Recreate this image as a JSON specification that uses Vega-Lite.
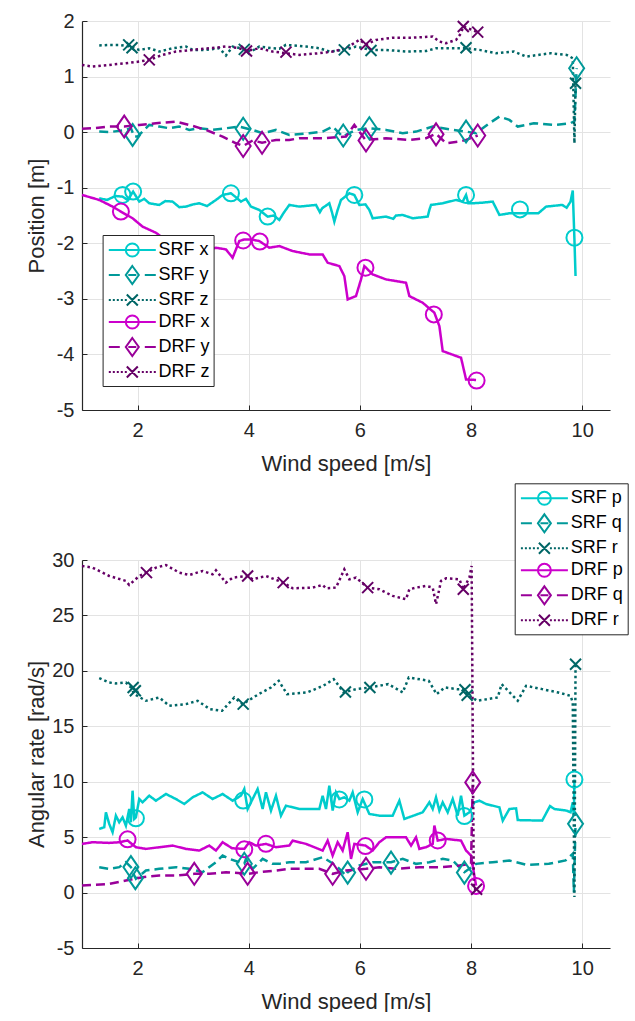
{
  "$schema": "https://vega.github.io/schema/vega-lite/v6.json",
  "background": "#ffffff",
  "padding": {"left": 25, "top": 11, "right": 0, "bottom": 0},
  "bounds": "flush",
  "spacing": 150,
  "resolve": {"scale": {"color": "independent", "shape": "independent", "strokeDash": "independent", "x": "independent", "y": "independent"}, "legend": {"color": "independent", "shape": "independent", "strokeDash": "independent"}},
  "config": {
    "view": {"stroke": null},
    "axis": {
      "domainColor": "#262626", "tickColor": "#262626", "labelColor": "#262626", "titleColor": "#262626",
      "labelFont": "Liberation Sans", "titleFont": "Liberation Sans",
      "labelFontSize": 20, "titleFontSize": 22, "titleFontWeight": "normal",
      "tickSize": -5, "gridColor": "#e3e3e3", "gridWidth": 1, "domainWidth": 1.2,
      "labelExpr": "datum.value + ''"
    },
    "axisX": {"titlePadding": 13, "labelPadding": 15},
    "axisY": {"titlePadding": 3, "labelPadding": 13},
    "legend": {
      "title": null, "orient": "none", "symbolSize": 400, "symbolStrokeWidth": 2, "symbolOpacity": 1,
      "labelFont": "Liberation Sans", "labelFontSize": 18, "labelColor": "#000000",
      "strokeColor": "#262626", "fillColor": "#ffffff", "padding": 4, "rowPadding": 1,
      "symbolOffset": 14.7, "labelOffset": 15.3
    }
  },
  "datasets": {
    "pos": [
      {"s":"SRF x","w":1.31,"v":-1.19},{"s":"SRF x","w":1.45,"v":-1.22},{"s":"SRF x","w":1.6,"v":-1.15},{"s":"SRF x","w":1.73,"v":-1.16},{"s":"SRF x","w":1.82,"v":-1.22},{"s":"SRF x","w":1.92,"v":-1.07},{"s":"SRF x","w":2.03,"v":-1.25},{"s":"SRF x","w":2.12,"v":-1.2},{"s":"SRF x","w":2.21,"v":-1.28},{"s":"SRF x","w":2.39,"v":-1.31},{"s":"SRF x","w":2.5,"v":-1.24},{"s":"SRF x","w":2.63,"v":-1.25},{"s":"SRF x","w":2.75,"v":-1.35},{"s":"SRF x","w":2.87,"v":-1.34},{"s":"SRF x","w":3.0,"v":-1.3},{"s":"SRF x","w":3.11,"v":-1.28},{"s":"SRF x","w":3.25,"v":-1.33},{"s":"SRF x","w":3.41,"v":-1.22},{"s":"SRF x","w":3.53,"v":-1.13},{"s":"SRF x","w":3.68,"v":-1.1},{"s":"SRF x","w":3.78,"v":-1.18},{"s":"SRF x","w":3.86,"v":-1.25},{"s":"SRF x","w":3.95,"v":-1.2},{"s":"SRF x","w":4.04,"v":-1.34},{"s":"SRF x","w":4.19,"v":-1.4},{"s":"SRF x","w":4.34,"v":-1.52},{"s":"SRF x","w":4.45,"v":-1.5},{"s":"SRF x","w":4.55,"v":-1.58},{"s":"SRF x","w":4.63,"v":-1.45},{"s":"SRF x","w":4.73,"v":-1.31},{"s":"SRF x","w":4.91,"v":-1.34},{"s":"SRF x","w":5.21,"v":-1.31},{"s":"SRF x","w":5.28,"v":-1.44},{"s":"SRF x","w":5.32,"v":-1.37},{"s":"SRF x","w":5.45,"v":-1.28},{"s":"SRF x","w":5.5,"v":-1.45},{"s":"SRF x","w":5.54,"v":-1.61},{"s":"SRF x","w":5.6,"v":-1.4},{"s":"SRF x","w":5.66,"v":-1.22},{"s":"SRF x","w":5.81,"v":-1.1},{"s":"SRF x","w":5.9,"v":-1.13},{"s":"SRF x","w":5.99,"v":-1.31},{"s":"SRF x","w":6.1,"v":-1.3},{"s":"SRF x","w":6.17,"v":-1.4},{"s":"SRF x","w":6.23,"v":-1.55},{"s":"SRF x","w":6.47,"v":-1.52},{"s":"SRF x","w":6.6,"v":-1.56},{"s":"SRF x","w":6.65,"v":-1.5},{"s":"SRF x","w":6.77,"v":-1.49},{"s":"SRF x","w":6.95,"v":-1.55},{"s":"SRF x","w":7.22,"v":-1.52},{"s":"SRF x","w":7.25,"v":-1.4},{"s":"SRF x","w":7.28,"v":-1.31},{"s":"SRF x","w":7.49,"v":-1.28},{"s":"SRF x","w":7.73,"v":-1.22},{"s":"SRF x","w":7.85,"v":-1.25},{"s":"SRF x","w":7.91,"v":-1.13},{"s":"SRF x","w":7.95,"v":-1.28},{"s":"SRF x","w":8.03,"v":-1.28},{"s":"SRF x","w":8.2,"v":-1.27},{"s":"SRF x","w":8.39,"v":-1.25},{"s":"SRF x","w":8.51,"v":-1.49},{"s":"SRF x","w":8.69,"v":-1.46},{"s":"SRF x","w":8.92,"v":-1.46},{"s":"SRF x","w":9.21,"v":-1.46},{"s":"SRF x","w":9.35,"v":-1.34},{"s":"SRF x","w":9.64,"v":-1.31},{"s":"SRF x","w":9.72,"v":-1.36},{"s":"SRF x","w":9.79,"v":-1.25},{"s":"SRF x","w":9.83,"v":-1.05},{"s":"SRF x","w":9.86,"v":-1.93},{"s":"SRF x","w":9.88,"v":-2.59},
      {"s":"DRF x","w":1.0,"v":-1.13},{"s":"DRF x","w":1.31,"v":-1.22},{"s":"DRF x","w":1.55,"v":-1.34},{"s":"DRF x","w":1.7,"v":-1.43},{"s":"DRF x","w":1.91,"v":-1.55},{"s":"DRF x","w":2.09,"v":-1.7},{"s":"DRF x","w":2.33,"v":-1.81},{"s":"DRF x","w":2.57,"v":-1.99},{"s":"DRF x","w":2.94,"v":-2.08},{"s":"DRF x","w":3.3,"v":-2.11},{"s":"DRF x","w":3.41,"v":-2.08},{"s":"DRF x","w":3.59,"v":-2.11},{"s":"DRF x","w":3.71,"v":-2.26},{"s":"DRF x","w":3.83,"v":-1.96},{"s":"DRF x","w":3.92,"v":-1.93},{"s":"DRF x","w":4.04,"v":-1.93},{"s":"DRF x","w":4.19,"v":-1.96},{"s":"DRF x","w":4.37,"v":-2.08},{"s":"DRF x","w":4.55,"v":-2.05},{"s":"DRF x","w":4.79,"v":-2.14},{"s":"DRF x","w":5.09,"v":-2.2},{"s":"DRF x","w":5.33,"v":-2.2},{"s":"DRF x","w":5.42,"v":-2.35},{"s":"DRF x","w":5.63,"v":-2.41},{"s":"DRF x","w":5.72,"v":-2.59},{"s":"DRF x","w":5.78,"v":-3.01},{"s":"DRF x","w":5.93,"v":-2.95},{"s":"DRF x","w":6.02,"v":-2.65},{"s":"DRF x","w":6.08,"v":-2.41},{"s":"DRF x","w":6.23,"v":-2.56},{"s":"DRF x","w":6.47,"v":-2.65},{"s":"DRF x","w":6.83,"v":-2.71},{"s":"DRF x","w":6.89,"v":-2.95},{"s":"DRF x","w":7.13,"v":-3.07},{"s":"DRF x","w":7.34,"v":-3.25},{"s":"DRF x","w":7.43,"v":-3.49},{"s":"DRF x","w":7.49,"v":-3.94},{"s":"DRF x","w":7.82,"v":-4.06},{"s":"DRF x","w":7.91,"v":-4.45},{"s":"DRF x","w":8.09,"v":-4.46},
      {"s":"SRF y","w":1.31,"v":0.01},{"s":"SRF y","w":1.49,"v":0.0},{"s":"SRF y","w":1.79,"v":0.04},{"s":"SRF y","w":1.88,"v":0.07},{"s":"SRF y","w":1.94,"v":-0.08},{"s":"SRF y","w":2.0,"v":-0.08},{"s":"SRF y","w":2.21,"v":0.13},{"s":"SRF y","w":2.39,"v":0.1},{"s":"SRF y","w":2.57,"v":0.07},{"s":"SRF y","w":2.75,"v":0.1},{"s":"SRF y","w":2.93,"v":0.04},{"s":"SRF y","w":3.11,"v":0.07},{"s":"SRF y","w":3.35,"v":0.04},{"s":"SRF y","w":3.59,"v":0.07},{"s":"SRF y","w":3.83,"v":0.1},{"s":"SRF y","w":4.07,"v":0.04},{"s":"SRF y","w":4.25,"v":-0.02},{"s":"SRF y","w":4.49,"v":0.04},{"s":"SRF y","w":4.73,"v":-0.05},{"s":"SRF y","w":5.09,"v":-0.02},{"s":"SRF y","w":5.33,"v":0.01},{"s":"SRF y","w":5.51,"v":0.1},{"s":"SRF y","w":5.69,"v":-0.08},{"s":"SRF y","w":5.93,"v":0.04},{"s":"SRF y","w":6.17,"v":0.07},{"s":"SRF y","w":6.47,"v":0.04},{"s":"SRF y","w":6.77,"v":-0.02},{"s":"SRF y","w":7.01,"v":0.01},{"s":"SRF y","w":7.31,"v":0.1},{"s":"SRF y","w":7.67,"v":0.04},{"s":"SRF y","w":7.91,"v":0.01},{"s":"SRF y","w":8.09,"v":-0.02},{"s":"SRF y","w":8.33,"v":0.16},{"s":"SRF y","w":8.51,"v":0.28},{"s":"SRF y","w":8.69,"v":0.22},{"s":"SRF y","w":8.84,"v":0.1},{"s":"SRF y","w":9.13,"v":0.16},{"s":"SRF y","w":9.5,"v":0.13},{"s":"SRF y","w":9.79,"v":0.16},{"s":"SRF y","w":9.86,"v":0.2},{"s":"SRF y","w":9.9,"v":1.15},
      {"s":"DRF y","w":1.0,"v":0.06},{"s":"DRF y","w":1.19,"v":0.07},{"s":"DRF y","w":1.49,"v":0.1},{"s":"DRF y","w":1.76,"v":0.1},{"s":"DRF y","w":2.03,"v":0.13},{"s":"DRF y","w":2.33,"v":0.16},{"s":"DRF y","w":2.69,"v":0.19},{"s":"DRF y","w":2.93,"v":0.13},{"s":"DRF y","w":3.23,"v":0.04},{"s":"DRF y","w":3.53,"v":-0.08},{"s":"DRF y","w":3.77,"v":-0.2},{"s":"DRF y","w":3.9,"v":-0.25},{"s":"DRF y","w":4.07,"v":-0.15},{"s":"DRF y","w":4.24,"v":-0.19},{"s":"DRF y","w":4.49,"v":-0.14},{"s":"DRF y","w":4.73,"v":-0.14},{"s":"DRF y","w":4.91,"v":-0.11},{"s":"DRF y","w":5.33,"v":-0.11},{"s":"DRF y","w":5.75,"v":-0.08},{"s":"DRF y","w":5.9,"v":0.13},{"s":"DRF y","w":6.1,"v":-0.14},{"s":"DRF y","w":6.47,"v":-0.11},{"s":"DRF y","w":6.89,"v":-0.14},{"s":"DRF y","w":7.19,"v":-0.11},{"s":"DRF y","w":7.37,"v":-0.03},{"s":"DRF y","w":7.55,"v":-0.2},{"s":"DRF y","w":7.79,"v":-0.17},{"s":"DRF y","w":7.91,"v":-0.14},{"s":"DRF y","w":8.12,"v":-0.06},
      {"s":"SRF z","w":1.31,"v":1.56},{"s":"SRF z","w":1.49,"v":1.57},{"s":"SRF z","w":1.67,"v":1.57},{"s":"SRF z","w":1.88,"v":1.54},{"s":"SRF z","w":2.03,"v":1.48},{"s":"SRF z","w":2.21,"v":1.51},{"s":"SRF z","w":2.39,"v":1.45},{"s":"SRF z","w":2.63,"v":1.51},{"s":"SRF z","w":2.87,"v":1.54},{"s":"SRF z","w":2.99,"v":1.48},{"s":"SRF z","w":3.23,"v":1.48},{"s":"SRF z","w":3.47,"v":1.51},{"s":"SRF z","w":3.59,"v":1.38},{"s":"SRF z","w":3.71,"v":1.54},{"s":"SRF z","w":3.86,"v":1.51},{"s":"SRF z","w":4.04,"v":1.45},{"s":"SRF z","w":4.19,"v":1.54},{"s":"SRF z","w":4.43,"v":1.51},{"s":"SRF z","w":4.55,"v":1.5},{"s":"SRF z","w":4.67,"v":1.57},{"s":"SRF z","w":5.03,"v":1.54},{"s":"SRF z","w":5.27,"v":1.51},{"s":"SRF z","w":5.45,"v":1.45},{"s":"SRF z","w":5.72,"v":1.48},{"s":"SRF z","w":5.93,"v":1.54},{"s":"SRF z","w":6.2,"v":1.48},{"s":"SRF z","w":6.47,"v":1.48},{"s":"SRF z","w":6.83,"v":1.45},{"s":"SRF z","w":7.19,"v":1.46},{"s":"SRF z","w":7.37,"v":1.51},{"s":"SRF z","w":7.61,"v":1.51},{"s":"SRF z","w":7.91,"v":1.51},{"s":"SRF z","w":8.15,"v":1.48},{"s":"SRF z","w":8.45,"v":1.42},{"s":"SRF z","w":8.77,"v":1.45},{"s":"SRF z","w":8.99,"v":1.36},{"s":"SRF z","w":9.43,"v":1.42},{"s":"SRF z","w":9.72,"v":1.39},{"s":"SRF z","w":9.83,"v":1.33},{"s":"SRF z","w":9.86,"v":-0.2},{"s":"SRF z","w":9.88,"v":0.88},
      {"s":"DRF z","w":1.0,"v":1.21},{"s":"DRF z","w":1.19,"v":1.18},{"s":"DRF z","w":1.49,"v":1.21},{"s":"DRF z","w":1.79,"v":1.24},{"s":"DRF z","w":2.03,"v":1.27},{"s":"DRF z","w":2.21,"v":1.3},{"s":"DRF z","w":2.45,"v":1.39},{"s":"DRF z","w":2.69,"v":1.45},{"s":"DRF z","w":2.99,"v":1.48},{"s":"DRF z","w":3.29,"v":1.51},{"s":"DRF z","w":3.59,"v":1.54},{"s":"DRF z","w":3.83,"v":1.51},{"s":"DRF z","w":3.96,"v":1.46},{"s":"DRF z","w":4.19,"v":1.51},{"s":"DRF z","w":4.43,"v":1.45},{"s":"DRF z","w":4.67,"v":1.42},{"s":"DRF z","w":4.91,"v":1.39},{"s":"DRF z","w":5.27,"v":1.42},{"s":"DRF z","w":5.51,"v":1.45},{"s":"DRF z","w":5.75,"v":1.51},{"s":"DRF z","w":5.99,"v":1.66},{"s":"DRF z","w":6.11,"v":1.58},{"s":"DRF z","w":6.29,"v":1.66},{"s":"DRF z","w":6.59,"v":1.7},{"s":"DRF z","w":6.95,"v":1.7},{"s":"DRF z","w":7.31,"v":1.72},{"s":"DRF z","w":7.43,"v":1.63},{"s":"DRF z","w":7.55,"v":1.6},{"s":"DRF z","w":7.73,"v":1.66},{"s":"DRF z","w":7.82,"v":1.78},{"s":"DRF z","w":7.86,"v":1.9},{"s":"DRF z","w":8.12,"v":1.8}
    ],
    "posm": [
      {"s":"SRF x","w":1.73,"v":-1.13},{"s":"SRF x","w":1.92,"v":-1.07},{"s":"SRF x","w":3.68,"v":-1.1},{"s":"SRF x","w":4.34,"v":-1.52},{"s":"SRF x","w":5.9,"v":-1.13},{"s":"SRF x","w":7.91,"v":-1.13},{"s":"SRF x","w":8.88,"v":-1.39},{"s":"SRF x","w":9.86,"v":-1.9},
      {"s":"DRF x","w":1.7,"v":-1.43},{"s":"DRF x","w":3.9,"v":-1.95},{"s":"DRF x","w":4.2,"v":-1.97},{"s":"DRF x","w":6.1,"v":-2.44},{"s":"DRF x","w":7.33,"v":-3.28},{"s":"DRF x","w":8.1,"v":-4.47},
      {"s":"SRF y","w":1.91,"v":-0.05},{"s":"SRF y","w":3.9,"v":0.06},{"s":"SRF y","w":5.7,"v":-0.06},{"s":"SRF y","w":6.17,"v":0.07},{"s":"SRF y","w":7.91,"v":0.01},{"s":"SRF y","w":9.9,"v":1.15},
      {"s":"DRF y","w":1.76,"v":0.1},{"s":"DRF y","w":3.9,"v":-0.25},{"s":"DRF y","w":4.24,"v":-0.19},{"s":"DRF y","w":6.11,"v":-0.15},{"s":"DRF y","w":7.37,"v":-0.04},{"s":"DRF y","w":8.12,"v":-0.06},
      {"s":"SRF z","w":1.84,"v":1.57},{"s":"SRF z","w":1.9,"v":1.52},{"s":"SRF z","w":3.92,"v":1.49},{"s":"SRF z","w":5.72,"v":1.48},{"s":"SRF z","w":6.2,"v":1.47},{"s":"SRF z","w":7.91,"v":1.52},{"s":"SRF z","w":9.88,"v":0.88},
      {"s":"DRF z","w":2.21,"v":1.3},{"s":"DRF z","w":3.96,"v":1.46},{"s":"DRF z","w":4.67,"v":1.44},{"s":"DRF z","w":6.11,"v":1.58},{"s":"DRF z","w":7.86,"v":1.9},{"s":"DRF z","w":8.12,"v":1.8}
    ],
    "ang": [
      {"s":"SRF p","w":1.31,"v":5.74},{"s":"SRF p","w":1.4,"v":5.89},{"s":"SRF p","w":1.43,"v":7.24},{"s":"SRF p","w":1.49,"v":6.19},{"s":"SRF p","w":1.55,"v":5.44},{"s":"SRF p","w":1.61,"v":6.94},{"s":"SRF p","w":1.67,"v":6.34},{"s":"SRF p","w":1.73,"v":6.79},{"s":"SRF p","w":1.79,"v":6.04},{"s":"SRF p","w":1.85,"v":7.54},{"s":"SRF p","w":1.88,"v":6.34},{"s":"SRF p","w":1.91,"v":9.19},{"s":"SRF p","w":1.94,"v":6.64},{"s":"SRF p","w":1.97,"v":6.79},{"s":"SRF p","w":2.03,"v":8.44},{"s":"SRF p","w":2.09,"v":8.14},{"s":"SRF p","w":2.21,"v":8.74},{"s":"SRF p","w":2.33,"v":8.29},{"s":"SRF p","w":2.51,"v":8.89},{"s":"SRF p","w":2.69,"v":8.44},{"s":"SRF p","w":2.84,"v":7.99},{"s":"SRF p","w":2.99,"v":8.59},{"s":"SRF p","w":3.17,"v":9.04},{"s":"SRF p","w":3.35,"v":8.44},{"s":"SRF p","w":3.53,"v":8.89},{"s":"SRF p","w":3.71,"v":8.29},{"s":"SRF p","w":3.86,"v":8.74},{"s":"SRF p","w":3.92,"v":9.34},{"s":"SRF p","w":3.98,"v":7.54},{"s":"SRF p","w":4.07,"v":8.44},{"s":"SRF p","w":4.16,"v":9.34},{"s":"SRF p","w":4.25,"v":7.54},{"s":"SRF p","w":4.31,"v":9.04},{"s":"SRF p","w":4.4,"v":7.39},{"s":"SRF p","w":4.49,"v":8.74},{"s":"SRF p","w":4.58,"v":6.94},{"s":"SRF p","w":4.67,"v":7.84},{"s":"SRF p","w":4.91,"v":7.54},{"s":"SRF p","w":5.27,"v":7.54},{"s":"SRF p","w":5.33,"v":8.74},{"s":"SRF p","w":5.39,"v":7.54},{"s":"SRF p","w":5.45,"v":9.64},{"s":"SRF p","w":5.51,"v":7.39},{"s":"SRF p","w":5.57,"v":9.04},{"s":"SRF p","w":5.63,"v":8.44},{"s":"SRF p","w":5.72,"v":8.59},{"s":"SRF p","w":5.81,"v":8.29},{"s":"SRF p","w":5.87,"v":9.04},{"s":"SRF p","w":5.96,"v":7.24},{"s":"SRF p","w":6.05,"v":8.44},{"s":"SRF p","w":6.17,"v":7.09},{"s":"SRF p","w":6.35,"v":6.94},{"s":"SRF p","w":6.59,"v":6.94},{"s":"SRF p","w":6.71,"v":8.29},{"s":"SRF p","w":6.8,"v":6.64},{"s":"SRF p","w":7.13,"v":7.24},{"s":"SRF p","w":7.25,"v":8.14},{"s":"SRF p","w":7.31,"v":7.54},{"s":"SRF p","w":7.37,"v":8.59},{"s":"SRF p","w":7.43,"v":7.39},{"s":"SRF p","w":7.49,"v":8.14},{"s":"SRF p","w":7.58,"v":7.24},{"s":"SRF p","w":7.67,"v":8.44},{"s":"SRF p","w":7.76,"v":6.94},{"s":"SRF p","w":7.82,"v":8.74},{"s":"SRF p","w":7.88,"v":6.94},{"s":"SRF p","w":7.97,"v":7.24},{"s":"SRF p","w":8.06,"v":8.14},{"s":"SRF p","w":8.15,"v":8.29},{"s":"SRF p","w":8.27,"v":7.99},{"s":"SRF p","w":8.51,"v":7.69},{"s":"SRF p","w":8.57,"v":6.49},{"s":"SRF p","w":8.69,"v":7.54},{"s":"SRF p","w":8.81,"v":7.6},{"s":"SRF p","w":8.84,"v":6.54},{"s":"SRF p","w":9.28,"v":6.49},{"s":"SRF p","w":9.42,"v":7.8},{"s":"SRF p","w":9.5,"v":7.54},{"s":"SRF p","w":9.72,"v":7.39},{"s":"SRF p","w":9.79,"v":7.24},{"s":"SRF p","w":9.83,"v":8.14},{"s":"SRF p","w":9.85,"v":6.9},{"s":"SRF p","w":9.86,"v":10.2},
      {"s":"DRF p","w":1.0,"v":4.39},{"s":"DRF p","w":1.19,"v":4.54},{"s":"DRF p","w":1.49,"v":4.48},{"s":"DRF p","w":1.67,"v":4.54},{"s":"DRF p","w":1.82,"v":4.7},{"s":"DRF p","w":1.97,"v":4.09},{"s":"DRF p","w":2.15,"v":3.94},{"s":"DRF p","w":2.39,"v":4.09},{"s":"DRF p","w":2.63,"v":4.24},{"s":"DRF p","w":2.87,"v":3.94},{"s":"DRF p","w":3.11,"v":3.79},{"s":"DRF p","w":3.29,"v":4.24},{"s":"DRF p","w":3.41,"v":3.79},{"s":"DRF p","w":3.53,"v":4.54},{"s":"DRF p","w":3.7,"v":4.0},{"s":"DRF p","w":3.92,"v":3.94},{"s":"DRF p","w":4.01,"v":4.54},{"s":"DRF p","w":4.13,"v":4.24},{"s":"DRF p","w":4.31,"v":4.39},{"s":"DRF p","w":4.49,"v":4.09},{"s":"DRF p","w":4.73,"v":4.24},{"s":"DRF p","w":4.79,"v":4.69},{"s":"DRF p","w":5.03,"v":4.39},{"s":"DRF p","w":5.33,"v":3.79},{"s":"DRF p","w":5.42,"v":4.69},{"s":"DRF p","w":5.51,"v":3.34},{"s":"DRF p","w":5.6,"v":4.54},{"s":"DRF p","w":5.69,"v":3.79},{"s":"DRF p","w":5.78,"v":5.44},{"s":"DRF p","w":5.84,"v":3.04},{"s":"DRF p","w":5.9,"v":4.39},{"s":"DRF p","w":6.1,"v":4.24},{"s":"DRF p","w":6.23,"v":3.79},{"s":"DRF p","w":6.35,"v":4.54},{"s":"DRF p","w":6.47,"v":4.99},{"s":"DRF p","w":6.83,"v":4.99},{"s":"DRF p","w":6.92,"v":4.24},{"s":"DRF p","w":7.01,"v":4.99},{"s":"DRF p","w":7.07,"v":3.94},{"s":"DRF p","w":7.19,"v":4.09},{"s":"DRF p","w":7.31,"v":4.39},{"s":"DRF p","w":7.34,"v":6.04},{"s":"DRF p","w":7.4,"v":4.69},{"s":"DRF p","w":7.55,"v":4.84},{"s":"DRF p","w":7.82,"v":4.69},{"s":"DRF p","w":7.91,"v":3.79},{"s":"DRF p","w":8.0,"v":3.34},{"s":"DRF p","w":8.09,"v":0.63},
      {"s":"SRF q","w":1.31,"v":2.29},{"s":"SRF q","w":1.49,"v":2.14},{"s":"SRF q","w":1.67,"v":2.29},{"s":"SRF q","w":1.79,"v":2.74},{"s":"SRF q","w":1.88,"v":2.29},{"s":"SRF q","w":1.91,"v":1.84},{"s":"SRF q","w":1.97,"v":1.24},{"s":"SRF q","w":2.15,"v":1.99},{"s":"SRF q","w":2.39,"v":2.14},{"s":"SRF q","w":2.69,"v":2.29},{"s":"SRF q","w":2.93,"v":2.14},{"s":"SRF q","w":3.17,"v":1.84},{"s":"SRF q","w":3.41,"v":2.74},{"s":"SRF q","w":3.53,"v":3.34},{"s":"SRF q","w":3.65,"v":3.04},{"s":"SRF q","w":3.83,"v":2.74},{"s":"SRF q","w":3.92,"v":2.59},{"s":"SRF q","w":3.95,"v":3.04},{"s":"SRF q","w":4.07,"v":2.14},{"s":"SRF q","w":4.25,"v":3.04},{"s":"SRF q","w":4.43,"v":2.59},{"s":"SRF q","w":4.55,"v":2.59},{"s":"SRF q","w":4.73,"v":2.74},{"s":"SRF q","w":5.03,"v":2.74},{"s":"SRF q","w":5.33,"v":3.19},{"s":"SRF q","w":5.57,"v":2.44},{"s":"SRF q","w":5.75,"v":1.54},{"s":"SRF q","w":5.78,"v":1.84},{"s":"SRF q","w":5.99,"v":2.44},{"s":"SRF q","w":6.23,"v":2.74},{"s":"SRF q","w":6.56,"v":2.74},{"s":"SRF q","w":6.77,"v":3.04},{"s":"SRF q","w":7.01,"v":2.59},{"s":"SRF q","w":7.25,"v":2.74},{"s":"SRF q","w":7.49,"v":3.04},{"s":"SRF q","w":7.67,"v":2.89},{"s":"SRF q","w":7.88,"v":1.84},{"s":"SRF q","w":8.09,"v":2.59},{"s":"SRF q","w":8.39,"v":2.74},{"s":"SRF q","w":8.69,"v":2.89},{"s":"SRF q","w":9.0,"v":2.5},{"s":"SRF q","w":9.4,"v":2.6},{"s":"SRF q","w":9.7,"v":2.9},{"s":"SRF q","w":9.83,"v":3.5},{"s":"SRF q","w":9.85,"v":0.0},{"s":"SRF q","w":9.88,"v":6.2},
      {"s":"DRF q","w":1.0,"v":0.63},{"s":"DRF q","w":1.19,"v":0.69},{"s":"DRF q","w":1.49,"v":0.78},{"s":"DRF q","w":1.79,"v":1.09},{"s":"DRF q","w":2.09,"v":1.39},{"s":"DRF q","w":2.39,"v":1.54},{"s":"DRF q","w":2.69,"v":1.54},{"s":"DRF q","w":3.02,"v":1.69},{"s":"DRF q","w":3.29,"v":1.69},{"s":"DRF q","w":3.59,"v":1.84},{"s":"DRF q","w":3.98,"v":1.69},{"s":"DRF q","w":4.19,"v":1.84},{"s":"DRF q","w":4.49,"v":1.99},{"s":"DRF q","w":4.73,"v":2.14},{"s":"DRF q","w":4.91,"v":2.14},{"s":"DRF q","w":5.27,"v":2.14},{"s":"DRF q","w":5.51,"v":1.69},{"s":"DRF q","w":5.75,"v":1.99},{"s":"DRF q","w":6.11,"v":2.14},{"s":"DRF q","w":6.35,"v":2.29},{"s":"DRF q","w":6.65,"v":2.14},{"s":"DRF q","w":7.07,"v":2.29},{"s":"DRF q","w":7.43,"v":2.29},{"s":"DRF q","w":7.79,"v":2.44},{"s":"DRF q","w":8.0,"v":2.59},{"s":"DRF q","w":8.03,"v":9.94},
      {"s":"SRF r","w":1.31,"v":19.34},{"s":"SRF r","w":1.49,"v":18.95},{"s":"SRF r","w":1.61,"v":18.86},{"s":"SRF r","w":1.79,"v":18.95},{"s":"SRF r","w":1.88,"v":18.5},{"s":"SRF r","w":1.94,"v":17.9},{"s":"SRF r","w":2.15,"v":17.3},{"s":"SRF r","w":2.39,"v":17.6},{"s":"SRF r","w":2.57,"v":16.85},{"s":"SRF r","w":2.87,"v":17.0},{"s":"SRF r","w":3.08,"v":17.3},{"s":"SRF r","w":3.3,"v":16.55},{"s":"SRF r","w":3.52,"v":16.4},{"s":"SRF r","w":3.74,"v":17.6},{"s":"SRF r","w":3.89,"v":17.0},{"s":"SRF r","w":4.18,"v":17.9},{"s":"SRF r","w":4.4,"v":18.5},{"s":"SRF r","w":4.54,"v":19.1},{"s":"SRF r","w":4.69,"v":17.9},{"s":"SRF r","w":5.05,"v":18.05},{"s":"SRF r","w":5.34,"v":18.65},{"s":"SRF r","w":5.53,"v":19.25},{"s":"SRF r","w":5.71,"v":18.05},{"s":"SRF r","w":5.93,"v":18.35},{"s":"SRF r","w":6.18,"v":18.5},{"s":"SRF r","w":6.51,"v":18.8},{"s":"SRF r","w":6.77,"v":18.05},{"s":"SRF r","w":6.88,"v":19.4},{"s":"SRF r","w":7.24,"v":19.1},{"s":"SRF r","w":7.38,"v":17.9},{"s":"SRF r","w":7.53,"v":18.5},{"s":"SRF r","w":7.75,"v":18.35},{"s":"SRF r","w":7.89,"v":18.35},{"s":"SRF r","w":7.93,"v":17.9},{"s":"SRF r","w":8.11,"v":17.3},{"s":"SRF r","w":8.48,"v":17.6},{"s":"SRF r","w":8.55,"v":18.8},{"s":"SRF r","w":8.84,"v":17.3},{"s":"SRF r","w":8.99,"v":18.65},{"s":"SRF r","w":9.28,"v":18.35},{"s":"SRF r","w":9.57,"v":18.05},{"s":"SRF r","w":9.79,"v":17.75},{"s":"SRF r","w":9.83,"v":17.15},{"s":"SRF r","w":9.86,"v":-0.4},{"s":"SRF r","w":9.88,"v":20.6},
      {"s":"DRF r","w":1.0,"v":29.46},{"s":"DRF r","w":1.19,"v":29.31},{"s":"DRF r","w":1.49,"v":28.56},{"s":"DRF r","w":1.79,"v":28.11},{"s":"DRF r","w":1.85,"v":27.75},{"s":"DRF r","w":2.03,"v":28.56},{"s":"DRF r","w":2.16,"v":28.86},{"s":"DRF r","w":2.33,"v":29.31},{"s":"DRF r","w":2.51,"v":29.55},{"s":"DRF r","w":2.75,"v":28.86},{"s":"DRF r","w":2.93,"v":28.65},{"s":"DRF r","w":3.17,"v":29.01},{"s":"DRF r","w":3.35,"v":28.71},{"s":"DRF r","w":3.41,"v":29.07},{"s":"DRF r","w":3.59,"v":27.96},{"s":"DRF r","w":3.71,"v":28.41},{"s":"DRF r","w":3.98,"v":28.56},{"s":"DRF r","w":4.07,"v":28.26},{"s":"DRF r","w":4.31,"v":28.56},{"s":"DRF r","w":4.62,"v":27.96},{"s":"DRF r","w":4.79,"v":27.45},{"s":"DRF r","w":5.15,"v":27.51},{"s":"DRF r","w":5.33,"v":27.75},{"s":"DRF r","w":5.39,"v":27.45},{"s":"DRF r","w":5.57,"v":27.51},{"s":"DRF r","w":5.72,"v":29.16},{"s":"DRF r","w":5.81,"v":28.26},{"s":"DRF r","w":5.93,"v":28.41},{"s":"DRF r","w":6.14,"v":27.51},{"s":"DRF r","w":6.35,"v":27.36},{"s":"DRF r","w":6.59,"v":26.76},{"s":"DRF r","w":6.83,"v":26.46},{"s":"DRF r","w":6.89,"v":27.36},{"s":"DRF r","w":7.01,"v":27.51},{"s":"DRF r","w":7.19,"v":27.66},{"s":"DRF r","w":7.31,"v":27.51},{"s":"DRF r","w":7.37,"v":26.01},{"s":"DRF r","w":7.46,"v":28.11},{"s":"DRF r","w":7.55,"v":28.35},{"s":"DRF r","w":7.79,"v":28.26},{"s":"DRF r","w":7.86,"v":27.36},{"s":"DRF r","w":7.97,"v":28.41},{"s":"DRF r","w":8.01,"v":29.46},{"s":"DRF r","w":8.05,"v":0.3},{"s":"DRF r","w":8.1,"v":0.3}
    ],
    "angm": [
      {"s":"SRF p","w":1.97,"v":6.7},{"s":"SRF p","w":3.9,"v":8.3},{"s":"SRF p","w":5.63,"v":8.4},{"s":"SRF p","w":6.08,"v":8.4},{"s":"SRF p","w":7.88,"v":6.9},{"s":"SRF p","w":9.86,"v":10.2},
      {"s":"DRF p","w":1.82,"v":4.8},{"s":"DRF p","w":3.92,"v":3.9},{"s":"DRF p","w":4.31,"v":4.4},{"s":"DRF p","w":6.1,"v":4.2},{"s":"DRF p","w":7.4,"v":4.7},{"s":"DRF p","w":8.09,"v":0.6},
      {"s":"SRF q","w":1.88,"v":2.3},{"s":"SRF q","w":1.96,"v":1.3},{"s":"SRF q","w":3.92,"v":2.6},{"s":"SRF q","w":5.78,"v":1.8},{"s":"SRF q","w":6.56,"v":2.7},{"s":"SRF q","w":7.88,"v":1.8},{"s":"SRF q","w":9.88,"v":6.2},
      {"s":"DRF q","w":3.02,"v":1.69},{"s":"DRF q","w":3.98,"v":1.69},{"s":"DRF q","w":5.51,"v":1.69},{"s":"DRF q","w":6.11,"v":2.14},{"s":"DRF q","w":8.03,"v":9.94},
      {"s":"SRF r","w":1.92,"v":18.5},{"s":"SRF r","w":1.96,"v":18.2},{"s":"SRF r","w":3.9,"v":17.0},{"s":"SRF r","w":5.74,"v":18.1},{"s":"SRF r","w":6.18,"v":18.5},{"s":"SRF r","w":7.89,"v":18.3},{"s":"SRF r","w":7.93,"v":17.8},{"s":"SRF r","w":9.88,"v":20.6},
      {"s":"DRF r","w":2.16,"v":28.86},{"s":"DRF r","w":3.98,"v":28.56},{"s":"DRF r","w":4.62,"v":27.96},{"s":"DRF r","w":6.14,"v":27.51},{"s":"DRF r","w":7.86,"v":27.36},{"s":"DRF r","w":8.1,"v":0.3}
    ]
  },
  "vconcat": [
    {
      "width": 528, "height": 389,
      "layer": [
        {
          "data": {"name": "pos"},
          "mark": {"type": "line", "strokeWidth": 2.5},
          "encoding": {
            "x": {"field": "w", "type": "quantitative", "scale": {"domain": [1, 10.5], "nice": false, "zero": false}, "axis": {"values": [2, 4, 6, 8, 10], "title": "Wind speed [m/s]"}},
            "y": {"field": "v", "type": "quantitative", "scale": {"domain": [-5, 2], "nice": false, "zero": false}, "axis": {"values": [-5, -4, -3, -2, -1, 0, 1, 2], "title": "Position [m]", "titlePadding": 8}},
            "color": {"field": "s", "type": "nominal", "scale": {"domain": ["SRF x", "SRF y", "SRF z", "DRF x", "DRF y", "DRF z"], "range": ["#00cccc", "#009999", "#006666", "#cc00cc", "#990099", "#660066"]}, "legend": {"legendX": 20.6, "legendY": 214}},
            "strokeDash": {"field": "s", "type": "nominal", "scale": {"domain": ["DRF z", "DRF y", "DRF x", "SRF z", "SRF y", "SRF x"], "range": [[2.5, 3], [9, 5], [1, 0], [2.5, 3], [9, 5], [1, 0]]}, "legend": null}
          }
        },
        {
          "data": {"name": "posm"},
          "transform": [{"filter": {"field": "s", "equal": "none"}}],
          "mark": {"type": "point", "filled": false, "strokeWidth": 2},
          "encoding": {
            "x": {"field": "w", "type": "quantitative"},
            "y": {"field": "v", "type": "quantitative"},
            "color": {"field": "s", "type": "nominal"},
            "shape": {"field": "s", "type": "nominal", "scale": {"domain": ["SRF x", "SRF y", "SRF z", "DRF x", "DRF y", "DRF z"], "range": [
              "M-2.35,0L2.35,0M0.65,0A0.65,0.65,0,1,1,-0.65,0A0.65,0.65,0,1,1,0.65,0",
              "M-2.35,0L-1.25,0M-0.4,0L0.4,0M1.25,0L2.35,0M0,-0.9L0.65,0L0,0.9L-0.65,0Z",
              "M-2.35,0L-2.15,0M-1.95,0L-1.75,0M-1.55,0L-1.35,0M-1.15,0L-0.95,0M-0.75,0L-0.55,0M0.55,0L0.75,0M0.95,0L1.15,0M1.35,0L1.55,0M1.75,0L1.95,0M2.15,0L2.35,0M-0.55,-0.55L0.55,0.55M0.55,-0.55L-0.55,0.55",
              "M-2.35,0L2.35,0M0.65,0A0.65,0.65,0,1,1,-0.65,0A0.65,0.65,0,1,1,0.65,0",
              "M-2.35,0L-1.25,0M-0.4,0L0.4,0M1.25,0L2.35,0M0,-0.9L0.65,0L0,0.9L-0.65,0Z",
              "M-2.35,0L-2.15,0M-1.95,0L-1.75,0M-1.55,0L-1.35,0M-1.15,0L-0.95,0M-0.75,0L-0.55,0M0.55,0L0.75,0M0.95,0L1.15,0M1.35,0L1.55,0M1.75,0L1.95,0M2.15,0L2.35,0M-0.55,-0.55L0.55,0.55M0.55,-0.55L-0.55,0.55"]}}
          }
        },
        {
          "data": {"name": "posm"},
          "transform": [{"filter": {"field": "s", "oneOf": ["SRF x", "DRF x"]}}],
          "mark": {"type": "point", "shape": "M0.8,0A0.8,0.8,0,1,1,-0.8,0A0.8,0.8,0,1,1,0.8,0Z", "filled": false, "strokeWidth": 2, "size": 400, "opacity": 1},
          "encoding": {"x": {"field": "w", "type": "quantitative"}, "y": {"field": "v", "type": "quantitative"}, "color": {"field": "s", "type": "nominal"}}
        },
        {
          "data": {"name": "posm"},
          "transform": [{"filter": {"field": "s", "oneOf": ["SRF y", "DRF y"]}}],
          "mark": {"type": "point", "shape": "M0,-1.1L0.75,0L0,1.1L-0.75,0Z", "filled": false, "strokeWidth": 2, "size": 400, "opacity": 1},
          "encoding": {"x": {"field": "w", "type": "quantitative"}, "y": {"field": "v", "type": "quantitative"}, "color": {"field": "s", "type": "nominal"}}
        },
        {
          "data": {"name": "posm"},
          "transform": [{"filter": {"field": "s", "oneOf": ["SRF z", "DRF z"]}}],
          "mark": {"type": "point", "shape": "M-0.55,-0.55L0.55,0.55M0.55,-0.55L-0.55,0.55", "filled": false, "strokeWidth": 2, "size": 400, "opacity": 1},
          "encoding": {"x": {"field": "w", "type": "quantitative"}, "y": {"field": "v", "type": "quantitative"}, "color": {"field": "s", "type": "nominal"}}
        }
      ]
    },
    {
      "width": 528, "height": 388,
      "layer": [
        {
          "data": {"name": "ang"},
          "mark": {"type": "line", "strokeWidth": 2.5},
          "encoding": {
            "x": {"field": "w", "type": "quantitative", "scale": {"domain": [1, 10.5], "nice": false, "zero": false}, "axis": {"values": [2, 4, 6, 8, 10], "title": "Wind speed [m/s]"}},
            "y": {"field": "v", "type": "quantitative", "scale": {"domain": [-5, 30], "nice": false, "zero": false}, "axis": {"values": [-5, 0, 5, 10, 15, 20, 25, 30], "title": "Angular rate [rad/s]"}},
            "color": {"field": "s", "type": "nominal", "scale": {"domain": ["SRF p", "SRF q", "SRF r", "DRF p", "DRF q", "DRF r"], "range": ["#00cccc", "#009999", "#006666", "#cc00cc", "#990099", "#660066"]}, "legend": {"legendX": 432.7, "legendY": -76.7}},
            "strokeDash": {"field": "s", "type": "nominal", "scale": {"domain": ["DRF r", "DRF q", "DRF p", "SRF r", "SRF q", "SRF p"], "range": [[2.5, 3], [9, 5], [1, 0], [2.5, 3], [9, 5], [1, 0]]}, "legend": null}
          }
        },
        {
          "data": {"name": "angm"},
          "transform": [{"filter": {"field": "s", "equal": "none"}}],
          "mark": {"type": "point", "filled": false, "strokeWidth": 2},
          "encoding": {
            "x": {"field": "w", "type": "quantitative"},
            "y": {"field": "v", "type": "quantitative"},
            "color": {"field": "s", "type": "nominal"},
            "shape": {"field": "s", "type": "nominal", "scale": {"domain": ["SRF p", "SRF q", "SRF r", "DRF p", "DRF q", "DRF r"], "range": [
              "M-2.35,0L2.35,0M0.65,0A0.65,0.65,0,1,1,-0.65,0A0.65,0.65,0,1,1,0.65,0",
              "M-2.35,0L-1.25,0M-0.4,0L0.4,0M1.25,0L2.35,0M0,-0.9L0.65,0L0,0.9L-0.65,0Z",
              "M-2.35,0L-2.15,0M-1.95,0L-1.75,0M-1.55,0L-1.35,0M-1.15,0L-0.95,0M-0.75,0L-0.55,0M0.55,0L0.75,0M0.95,0L1.15,0M1.35,0L1.55,0M1.75,0L1.95,0M2.15,0L2.35,0M-0.55,-0.55L0.55,0.55M0.55,-0.55L-0.55,0.55",
              "M-2.35,0L2.35,0M0.65,0A0.65,0.65,0,1,1,-0.65,0A0.65,0.65,0,1,1,0.65,0",
              "M-2.35,0L-1.25,0M-0.4,0L0.4,0M1.25,0L2.35,0M0,-0.9L0.65,0L0,0.9L-0.65,0Z",
              "M-2.35,0L-2.15,0M-1.95,0L-1.75,0M-1.55,0L-1.35,0M-1.15,0L-0.95,0M-0.75,0L-0.55,0M0.55,0L0.75,0M0.95,0L1.15,0M1.35,0L1.55,0M1.75,0L1.95,0M2.15,0L2.35,0M-0.55,-0.55L0.55,0.55M0.55,-0.55L-0.55,0.55"]}}
          }
        },
        {
          "data": {"name": "angm"},
          "transform": [{"filter": {"field": "s", "oneOf": ["SRF p", "DRF p"]}}],
          "mark": {"type": "point", "shape": "M0.8,0A0.8,0.8,0,1,1,-0.8,0A0.8,0.8,0,1,1,0.8,0Z", "filled": false, "strokeWidth": 2, "size": 400, "opacity": 1},
          "encoding": {"x": {"field": "w", "type": "quantitative"}, "y": {"field": "v", "type": "quantitative"}, "color": {"field": "s", "type": "nominal"}}
        },
        {
          "data": {"name": "angm"},
          "transform": [{"filter": {"field": "s", "oneOf": ["SRF q", "DRF q"]}}],
          "mark": {"type": "point", "shape": "M0,-1.1L0.75,0L0,1.1L-0.75,0Z", "filled": false, "strokeWidth": 2, "size": 400, "opacity": 1},
          "encoding": {"x": {"field": "w", "type": "quantitative"}, "y": {"field": "v", "type": "quantitative"}, "color": {"field": "s", "type": "nominal"}}
        },
        {
          "data": {"name": "angm"},
          "transform": [{"filter": {"field": "s", "oneOf": ["SRF r", "DRF r"]}}],
          "mark": {"type": "point", "shape": "M-0.55,-0.55L0.55,0.55M0.55,-0.55L-0.55,0.55", "filled": false, "strokeWidth": 2, "size": 400, "opacity": 1},
          "encoding": {"x": {"field": "w", "type": "quantitative"}, "y": {"field": "v", "type": "quantitative"}, "color": {"field": "s", "type": "nominal"}}
        }
      ]
    }
  ]
}
